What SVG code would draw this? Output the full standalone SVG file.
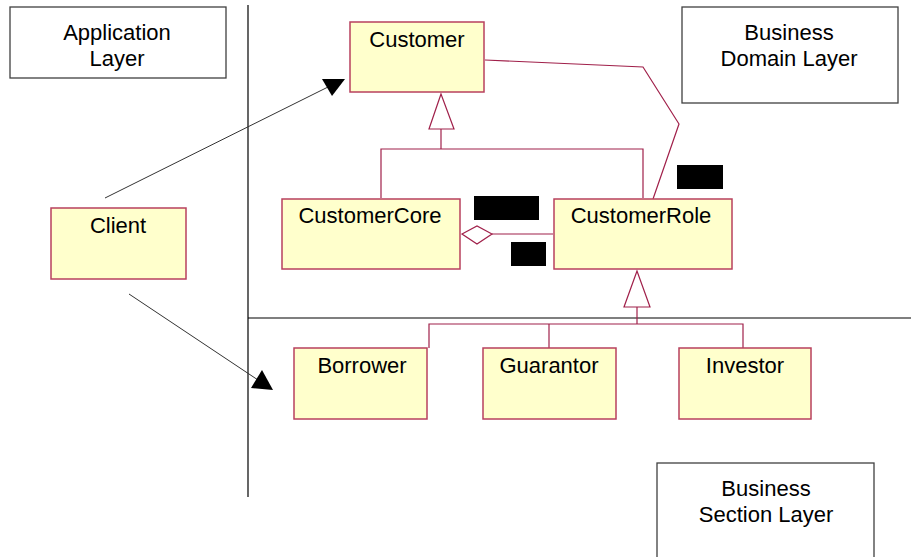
<svg xmlns="http://www.w3.org/2000/svg" width="911" height="557" viewBox="0 0 911 557">
<style>
.cls{fill:#ffffcc;stroke:#b8405e;stroke-width:1.5}
.lay{fill:#ffffff;stroke:#404040;stroke-width:1.3}
.t{font-family:"Liberation Sans",Arial,sans-serif;font-size:22px;fill:#000;text-anchor:middle}
.con{fill:none;stroke:#a0204a;stroke-width:1.2}
.dep{fill:none;stroke:#333;stroke-width:1}
.sep{stroke:#000;stroke-width:1.2}
.blk{fill:#000}
</style>
<rect width="911" height="557" fill="#fff"/>
<g id="separators">
<line class="sep" x1="248" y1="5" x2="248" y2="497"/>
<line class="sep" x1="248" y1="318" x2="911" y2="318"/>
</g>
<g id="application-layer"><rect class="lay" x="10" y="7" width="216" height="71"/><text class="t" x="117" y="40">Application</text><text class="t" x="117" y="66">Layer</text></g>
<g id="business-domain-layer"><rect class="lay" x="682" y="7" width="216" height="96"/><text class="t" x="789" y="40">Business</text><text class="t" x="789" y="66">Domain Layer</text></g>
<g id="business-section-layer"><rect class="lay" x="657" y="463" width="217" height="110"/><text class="t" x="766" y="496">Business</text><text class="t" x="766" y="522">Section Layer</text></g>
<g id="connectors">
<polyline class="con" points="485,60 643,67 679,124 653,199"/>
<polygon class="con" fill="#fff" points="441,94 429,129 454,129"/>
<polyline class="con" points="441,129 441,149"/>
<polyline class="con" points="381,198 381,149 643,149 643,198"/>
<polygon class="con" fill="#fff" points="462,234 477,226 492,234 477,244"/>
<line class="con" x1="492" y1="234" x2="553" y2="234"/>
<polygon class="con" fill="#fff" points="637,271 624,307 650,307"/>
<polyline class="con" points="637,307 637,324"/>
<polyline class="con" points="429,348 429,324 743,324 743,348"/>
<line class="con" x1="549" y1="324" x2="549" y2="348"/>
<line class="dep" x1="105" y1="198" x2="330" y2="86"/>
<polygon fill="#000" points="322,79 345,79 332,96"/>
<line class="dep" x1="129" y1="294" x2="258" y2="380"/>
<polygon fill="#000" points="262,370 251,388 273,390"/>
</g>
<g id="Customer"><rect class="cls" x="350" y="22" width="134" height="70"/><text class="t" x="417" y="47">Customer</text></g>
<g id="CustomerCore"><rect class="cls" x="282" y="199" width="178" height="70"/><text class="t" x="370" y="223">CustomerCore</text></g>
<g id="CustomerRole"><rect class="cls" x="554" y="199" width="178" height="70"/><text class="t" x="641" y="223">CustomerRole</text></g>
<g id="Client"><rect class="cls" x="51" y="208" width="135" height="71"/><text class="t" x="118" y="233">Client</text></g>
<g id="Borrower"><rect class="cls" x="294" y="348" width="133" height="71"/><text class="t" x="362" y="373">Borrower</text></g>
<g id="Guarantor"><rect class="cls" x="483" y="348" width="133" height="71"/><text class="t" x="549" y="373">Guarantor</text></g>
<g id="Investor"><rect class="cls" x="679" y="348" width="132" height="71"/><text class="t" x="745" y="373">Investor</text></g>
<g id="redactions">
<rect class="blk" x="474" y="196" width="65" height="24"/>
<rect class="blk" x="511" y="242" width="35" height="24"/>
<rect class="blk" x="677" y="165" width="46" height="24"/>
</g>
</svg>
